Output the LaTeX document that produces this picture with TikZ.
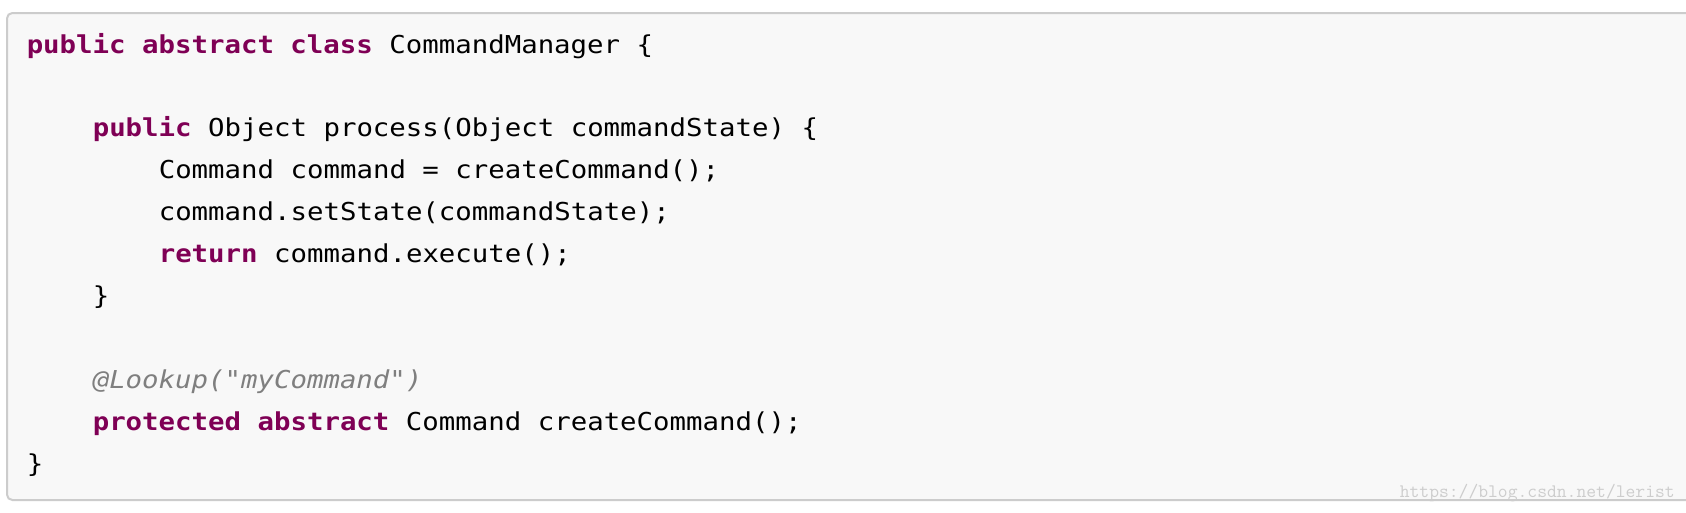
\documentclass[tikz,border=0pt]{standalone}
\usepackage{fontspec}
\newfontfamily\codefont[FakeStretch=1.11]{DejaVu Sans Mono}
\usetikzlibrary{positioning}
\definecolor{boxfill}{HTML}{F8F8F8}
\definecolor{boxline}{HTML}{CCCCCC}
\definecolor{kwcolor}{HTML}{7F0055}
\definecolor{annocolor}{HTML}{7F7F7F}
\definecolor{markcolor}{HTML}{CDCDCD}
\newcommand{\kw}[1]{{\bfseries\color{kwcolor}#1}}
\newcommand{\anno}[1]{{\itshape\color{annocolor}#1}}
\tikzstyle{codebox} = [draw=boxline, line width=1.5pt, fill=boxfill, rounded corners=4]
\tikzstyle{codeline} = [anchor=base west, inner sep=0pt, font=\codefont\fontsize{18.5}{22}\selectfont]
\tikzstyle{watermark} = [anchor=base east, inner sep=0pt, text=markcolor, font=\ttfamily\fontsize{14.3}{16}\selectfont]
\begin{document}
\begin{tikzpicture}[x=0.75pt, y=-0.75pt]

\useasboundingbox (0,0) rectangle (1686,512);
\fill[white] (0,0) rectangle (1686,512);

\draw [codebox] (1692,500) -- (7,500) -- (7,13) -- (1692,13);

\node (l1) [codeline] at (26.5,53) {\kw{public abstract class} CommandManager \{};

\node (l3) [codeline] at (92.5,136.8) {\kw{public} Object process(Object commandState) \{};
\node (l4) [codeline] at (158.5,178.7) {Command command = createCommand();};
\node (l5) [codeline] at (158.5,220.6) {command.setState(commandState);};
\node (l6) [codeline] at (158.5,262.5) {\kw{return} command.execute();};
\node (l7) [codeline] at (92.5,304.4) {\}};

\node (l9) [codeline] at (92.5,388.2) {\anno{@Lookup("myCommand")}};
\node (l10) [codeline] at (92.5,430.1) {\kw{protected abstract} Command createCommand();};
\node (l11) [codeline] at (26.5,472) {\}};

\node (mark) [watermark] at (1675,497) {https://blog.csdn.net/lerist};

\end{tikzpicture}
\end{document}
